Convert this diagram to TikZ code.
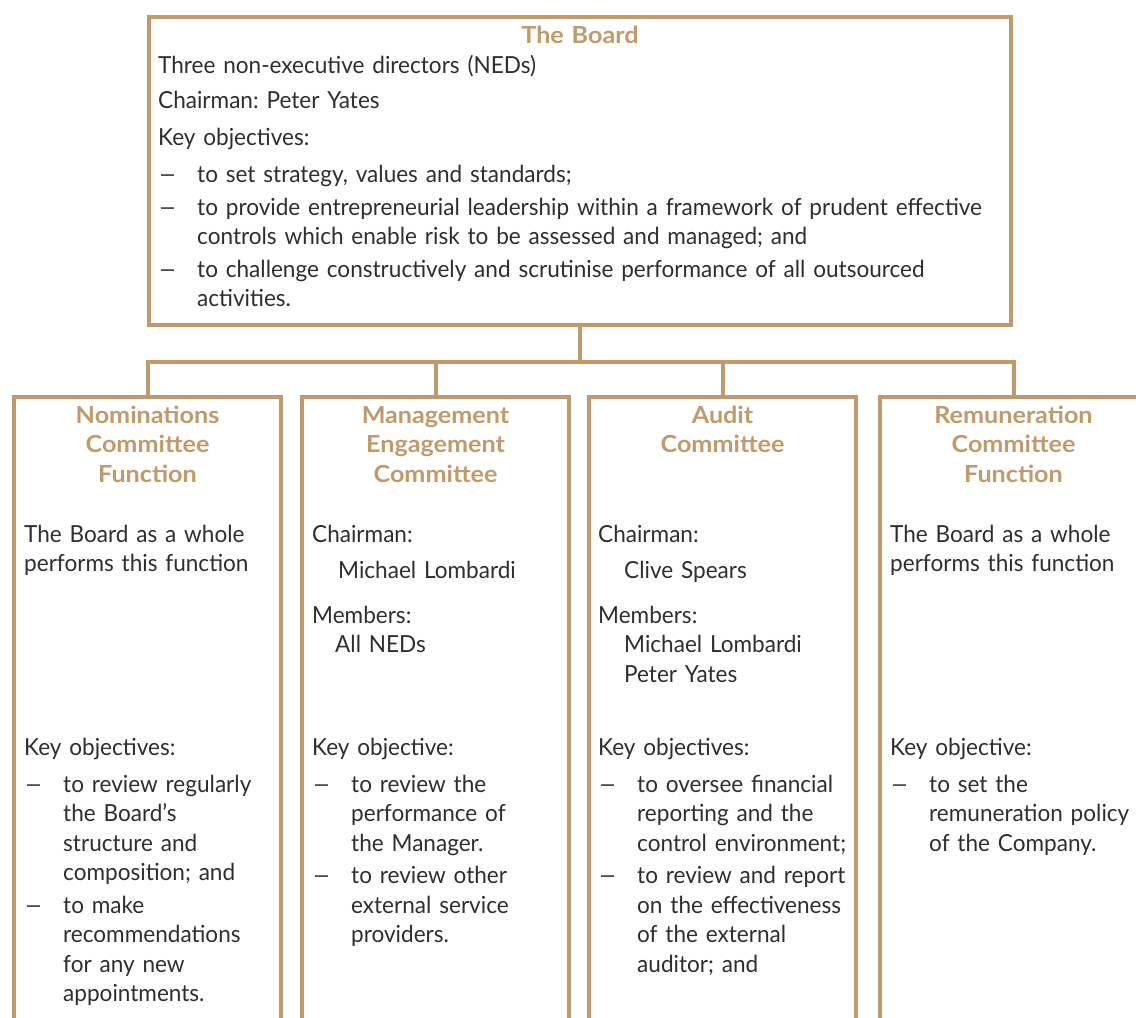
\documentclass[tikz,border=0pt]{standalone}
\usepackage{fontspec}
\setmainfont{Lato}[FakeStretch=0.96]
\newfontfamily\titlefam{Lato}[FakeStretch=1.07]
\usetikzlibrary{positioning}
\frenchspacing

\definecolor{boardtan}{HTML}{C19A6B}
\definecolor{bodygrey}{HTML}{2E2E2E}

\newcommand{\bodyfont}{\fontsize{23.5pt}{29.5pt}\selectfont}
\newcommand{\headfont}{\titlefam\fontsize{23.5pt}{29.5pt}\selectfont\bfseries}
% one dashed objective, wrapped lines hang under the text
\newcommand{\obj}[1][3pt]{\par\vspace{#1}\hangindent=39pt\hangafter=1\noindent\makebox[39pt][l]{\scalebox{1.45}[1]{--}}\ignorespaces}

\tikzset{
  boxline/.style={draw=boardtan, line width=4pt, outer sep=0pt},
  boardbox/.style={boxline, anchor=north west, inner sep=0pt, minimum width=862pt, minimum height=308pt},
  combox/.style={boxline, anchor=north west, inner sep=0pt, minimum width=267pt, minimum height=700pt},
  heading/.style={anchor=base, inner sep=0pt, align=center, text width=260pt, text=boardtan, font=\headfont},
  body/.style={anchor=base west, inner sep=0pt, align=left, text width=#1, text=bodygrey, font=\bodyfont},
  body/.default=400pt,
  link/.style={draw=boardtan, line width=4pt}
}

\begin{document}
\begin{tikzpicture}[x=1pt, y=-1pt]
  \useasboundingbox (0,0) rectangle (1136,1018);

  % the board
  \node[boardbox] (board) at (149,17) {};
  \node[heading] (boardtitle) at (580,43) {The Board};
  \node[body=1000pt] (boardtext) at (158,73) {%
    Three non-executive directors (NEDs)\\[5.5pt]
    Chairman: Peter Yates\\[7.5pt]
    Key objectives:
    \obj[8pt] to set strategy, values and standards;
    \obj to provide entrepreneurial leadership within a framework of prudent effective\newline
      controls which enable risk to be assessed and managed; and
    \obj to challenge constructively and scrutinise performance of all outsourced\newline
      activities.\par};

  % the committees
  \node[combox] (nom) at (14,397) {};
  \node[combox] (mec) at (302,397) {};
  \node[combox] (aud) at (589,397) {};
  \node[combox] (rem) at (880,397) {};

  \node[heading] (nomtitle) at (nom.north |- 0,423) {Nominations\\Committee\\Function};
  \node[heading] (mectitle) at (mec.north |- 0,423) {Management\\Engagement\\Committee};
  \node[heading] (audtitle) at (aud.north |- 0,423) {Audit\\Committee};
  \node[heading] (remtitle) at (rem.north |- 0,423) {Remuneration\\Committee\\Function};

  \node[body] (nomwho) at (24,542) {The Board as a whole\\performs this function};
  \node[body] (mecwho) at (312,542) {%
    Chairman:\\[6.5pt]
    \hspace*{26pt}Michael Lombardi\\[15.5pt]
    Members:\\
    \hspace*{23pt}All NEDs};
  \node[body] (audwho) at (598,542) {%
    Chairman:\\[6.5pt]
    \hspace*{26pt}Clive Spears\\[15.5pt]
    Members:\\
    \hspace*{26pt}Michael Lombardi\\
    \hspace*{26pt}Peter Yates};
  \node[body] (remwho) at (890,542) {The Board as a whole\\performs this function};

  \node[body] (nomobj) at (24,755) {%
    Key objectives:
    \obj[7.5pt] to review regularly\newline the Board's\newline structure and\newline composition; and
    \obj to make\newline recommendations\newline for any new\newline appointments.\par};
  \node[body] (mecobj) at (312,755) {%
    Key objective:
    \obj[7.5pt] to review the\newline performance of\newline the Manager.
    \obj to review other\newline external service\newline providers.\par};
  \node[body] (audobj) at (598,755) {%
    Key objectives:
    \obj[7.5pt] to oversee financial\newline reporting and the\newline control environment;
    \obj to review and report\newline on the effectiveness\newline of the external\newline auditor; and\par};
  \node[body] (remobj) at (890,755) {%
    Key objective:
    \obj[7.5pt] to set the\newline remuneration policy\newline of the Company.\par};

  % connectors
  \coordinate (split) at (board.south |- 0,362);
  \draw[link] (board.south) -- (split);
  \draw[link] (split) -| (nom.north);
  \draw[link] (split) -| (mec.north);
  \draw[link] (split) -| (aud.north);
  \draw[link] (split) -| (rem.north);
\end{tikzpicture}
\end{document}
